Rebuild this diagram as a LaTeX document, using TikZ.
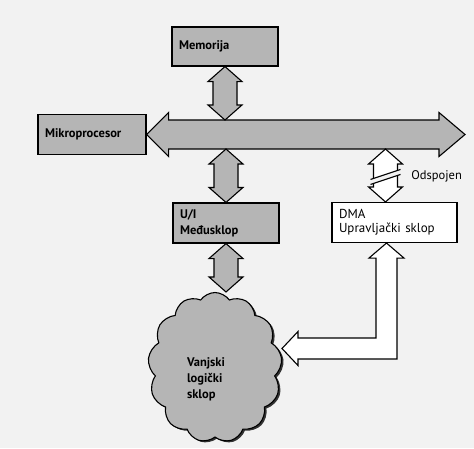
\documentclass[tikz,border=0pt]{standalone}
\usepackage{fontspec}
\setsansfont{PT Sans}
\usepackage{tikz}
\usetikzlibrary{calc, positioning, shapes.symbols, shadows}

\definecolor{paper}{gray}{0.95}
\definecolor{boxgray}{gray}{0.71}

% fat double arrow, tip #2 on top, tip #3 below
\newcommand{\vfat}[3]{%
    \filldraw[#1] (#2) -- ($(#2)+(17,15)$) -- ($(#2)+(12,15)$)
        -- ($(#3)+(12,-15)$) -- ($(#3)+(17,-15)$) -- (#3)
        -- ($(#3)+(-17,-15)$) -- ($(#3)+(-12,-15)$)
        -- ($(#2)+(-12,15)$) -- ($(#2)+(-17,15)$) -- cycle;
}

\begin{document}
\begin{tikzpicture}[
        x=1pt, y=-1pt,
        font=\sffamily\fontsize{12.5}{15}\selectfont,
        line width=1.1pt,
        box/.style={
            draw, rectangle,
            fill=boxgray,
            minimum height=40pt,
            inner xsep=7pt,
            align=left,
            font=\sffamily\bfseries\fontsize{12.5}{16}\selectfont
        },
        fat/.style={draw=black, fill=boxgray, line join=miter},
        hollow/.style={draw=black, fill=white, line join=miter},
    ]

    \fill[paper] (0,0) rectangle (474,448);
    \useasboundingbox (0,0) rectangle (474,448);

    %============================================================
    % Blocks
    %============================================================
    \node[box, text width=92pt, minimum height=39pt] (MEM) at (225,46.5) {Memorija};
    \node[box, text width=94pt] (CPU) at (92,134.5) {Mikroprocesor};
    \node[box, text width=92pt] (UI)  at (226,223) {U/I\\Međusklop};
    \node[box, text width=111pt, fill=white, font=\sffamily\fontsize{13}{14}\selectfont]
        (DMA) at (394.5,222.5) {DMA\\Upravljački sklop};

    %============================================================
    % Cloud: external logic
    %============================================================
    \node[cloud, draw, fill=boxgray, cloud puffs=13, cloud puff arc=110,
          minimum width=134pt, minimum height=150pt, inner sep=0pt,
          drop shadow={shadow xshift=2pt, shadow yshift=-1.5pt, fill=black!80, opacity=1}]
        (EXT) at (215,367.5) {};
    \node[font=\sffamily\bfseries\fontsize{12.5}{16}\selectfont, align=left]
        (EXTTXT) at ($(EXT.center)+(-9,12)$) {Vanjski\\logički\\sklop};

    %============================================================
    % System bus
    %============================================================
    \coordinate (BUSL) at (CPU.east);
    \coordinate (BUSR) at (465,134.5);
    \filldraw[fat] (BUSL) -- ($(BUSL)+(22,-22)$) -- ($(BUSL)+(22,-14.5)$)
        -- ($(BUSR)+(-26,-14.5)$) -- ($(BUSR)+(-26,-22)$) -- (BUSR)
        -- ($(BUSR)+(-26,22)$) -- ($(BUSR)+(-26,14.5)$)
        -- ($(BUSL)+(22,14.5)$) -- ($(BUSL)+(22,22)$) -- cycle;

    % Bus edges
    \coordinate (BUSTOP) at ($(BUSL)+(0,-14.5)$);
    \coordinate (BUSBOT) at ($(BUSL)+(0,14.5)$);

    %============================================================
    % Memory, U/I, DMA links to the bus
    %============================================================
    \vfat{fat}{MEM.south}{MEM.south |- BUSTOP}
    \vfat{fat}{UI.north |- BUSBOT}{UI.north}
    \vfat{fat}{UI.south}{UI.south |- EXT.north}

    \coordinate (DMAIN) at ($(DMA.north)+(-9,0)$);
    \vfat{hollow}{DMAIN |- BUSBOT}{DMAIN}

    % Break in the DMA link
    \coordinate (BRK) at ($(DMAIN)+(0,-25)$);
    \fill[paper] ($(BRK)+(-15,2.5)$) -- ($(BRK)+(15,-7.5)$)
        -- ($(BRK)+(15,-2.5)$) -- ($(BRK)+(-15,7.5)$) -- cycle;
    \draw ($(BRK)+(-15,2.5)$) -- ($(BRK)+(15,-7.5)$);
    \draw ($(BRK)+(-15,7.5)$) -- ($(BRK)+(15,-2.5)$);
    \node[anchor=west] (OFF) at ($(BRK)+(22,-1)$) {Odspojen};

    %============================================================
    % DMA <-> external logic
    %============================================================
    \coordinate (DMAOUT) at ($(DMA.south)+(-8,0)$);
    \coordinate (EXTIN)  at (282,348.5);
    \filldraw[hollow] (DMAOUT) -- ($(DMAOUT)+(17.5,15)$) -- ($(DMAOUT)+(10.5,15)$)
        -- ($(DMAOUT |- EXTIN)+(10.5,10.5)$) -- ($(EXTIN)+(16,10.5)$)
        -- ($(EXTIN)+(16,17)$) -- (EXTIN) -- ($(EXTIN)+(16,-17)$)
        -- ($(EXTIN)+(16,-10.5)$) -- ($(DMAOUT |- EXTIN)+(-10.5,-10.5)$)
        -- ($(DMAOUT)+(-10.5,15)$) -- ($(DMAOUT)+(-17.5,15)$) -- cycle;

\end{tikzpicture}
\end{document}
